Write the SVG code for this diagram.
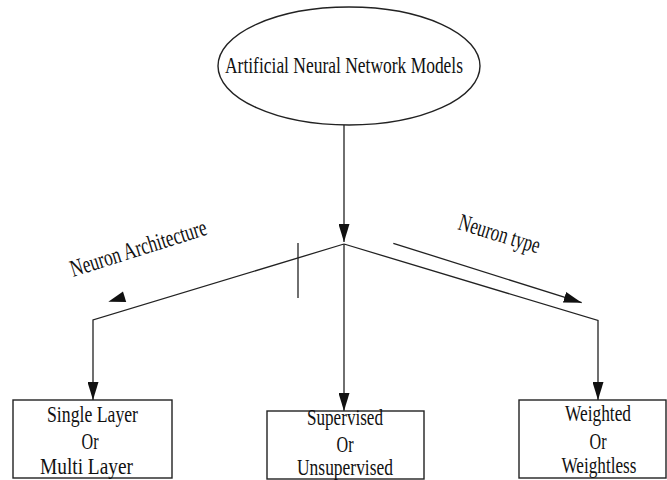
<svg xmlns="http://www.w3.org/2000/svg" width="667" height="480" viewBox="0 0 667 480">
  <style>
    .shape { fill: #ffffff; stroke: #222222; stroke-width: 1.4; }
    .wire { fill: none; stroke: #222222; stroke-width: 1.3; }
    .head { fill: #111111; stroke: none; }
    text { font-family: "Liberation Serif", "Times New Roman", serif; font-size: 24px; fill: #111111; }
  </style>
  <defs>
    <marker id="arrow" viewBox="0 0 18 11" refX="18" refY="5.5" markerWidth="18" markerHeight="11" markerUnits="userSpaceOnUse" orient="auto">
      <path d="M0,0 L18,5.5 L0,11 Z" fill="#111111"/>
    </marker>
  </defs>

  <rect width="667" height="480" fill="#ffffff"/>

  <!-- connectors -->
  <g id="connectors">
    <line class="wire" x1="344" y1="125" x2="344" y2="242" marker-end="url(#arrow)"/>
    <polyline class="wire" points="344,244 93,320 93,400" marker-end="url(#arrow)"/>
    <line class="wire" x1="344" y1="244" x2="344" y2="411" marker-end="url(#arrow)"/>
    <polyline class="wire" points="344,244 598,320.5 598,400" marker-end="url(#arrow)"/>
    <!-- tick across the left branch -->
    <line class="wire" x1="298" y1="243" x2="298" y2="298"/>
    <!-- direction cues -->
    <polygon class="head" points="108.3,301.7 123,291.5 126.2,302.1"/>
    <line class="wire" x1="393.3" y1="243.3" x2="581.7" y2="302.7" marker-end="url(#arrow)"/>
    <text x="73" y="277" textLength="142" lengthAdjust="spacingAndGlyphs" transform="rotate(-17.5 73 277)">Neuron Architecture</text>
    <text x="457" y="229" textLength="84" lengthAdjust="spacingAndGlyphs" transform="rotate(17 457 229)">Neuron type</text>
  </g>

  <g id="root">
    <ellipse class="shape" cx="349" cy="66" rx="131" ry="59"/>
    <text x="344" y="73" text-anchor="middle" textLength="238" lengthAdjust="spacingAndGlyphs">Artificial Neural Network Models</text>
  </g>

  <g id="architecture">
    <rect class="shape" x="13" y="400" width="159" height="78"/>
    <text x="92.5" y="421.5" text-anchor="middle" textLength="91" lengthAdjust="spacingAndGlyphs">Single Layer</text>
    <text x="90" y="449" text-anchor="middle" textLength="17" lengthAdjust="spacingAndGlyphs">Or</text>
    <text x="86.5" y="473.5" text-anchor="middle" textLength="93" lengthAdjust="spacingAndGlyphs">Multi Layer</text>
  </g>

  <g id="learning">
    <rect class="shape" x="267" y="411" width="157" height="68"/>
    <text x="345" y="425" text-anchor="middle" textLength="76" lengthAdjust="spacingAndGlyphs">Supervised</text>
    <text x="345" y="451.5" text-anchor="middle" textLength="17" lengthAdjust="spacingAndGlyphs">Or</text>
    <text x="345" y="475" text-anchor="middle" textLength="96" lengthAdjust="spacingAndGlyphs">Unsupervised</text>
  </g>

  <g id="neuron-type">
    <rect class="shape" x="519" y="400" width="147" height="78"/>
    <text x="598" y="420.5" text-anchor="middle" textLength="66" lengthAdjust="spacingAndGlyphs">Weighted</text>
    <text x="598" y="449" text-anchor="middle" textLength="17" lengthAdjust="spacingAndGlyphs">Or</text>
    <text x="599" y="473" text-anchor="middle" textLength="75" lengthAdjust="spacingAndGlyphs">Weightless</text>
  </g>
</svg>
